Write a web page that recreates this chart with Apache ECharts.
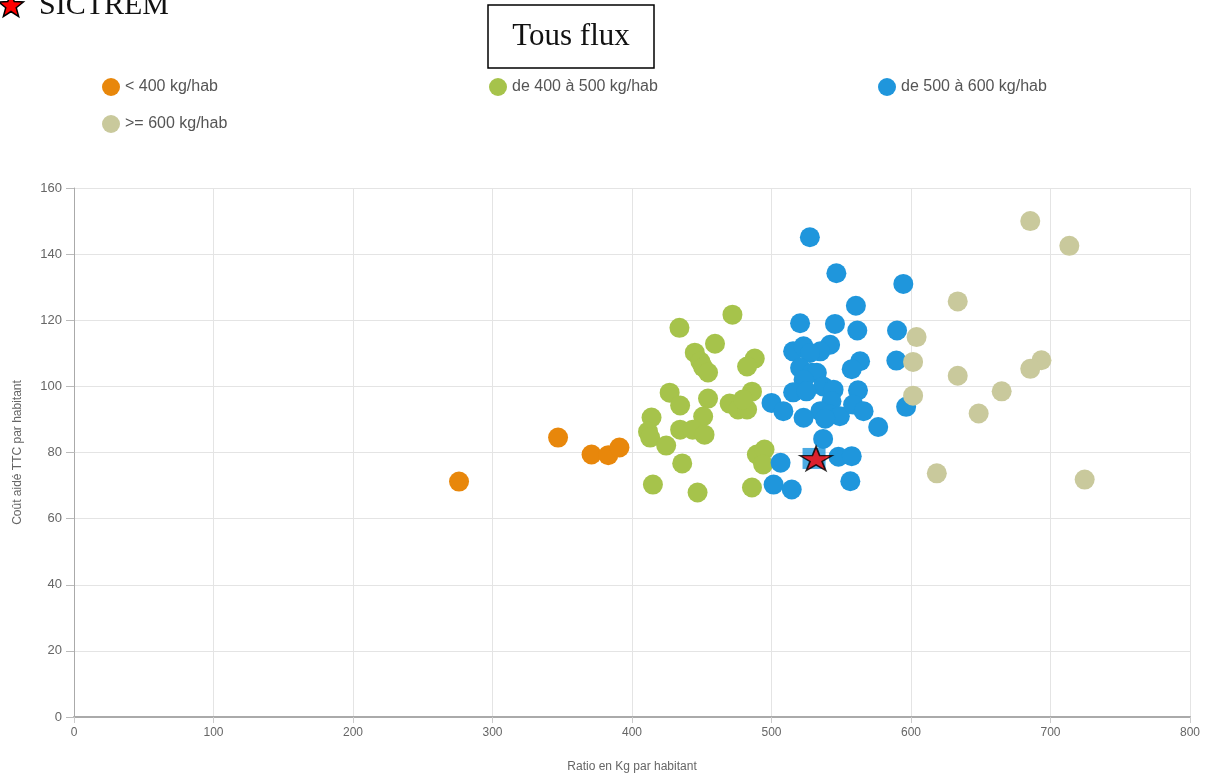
<!DOCTYPE html>
<html>
<head>
<meta charset="utf-8">
<script src="https://cdn.jsdelivr.net/npm/echarts@6/dist/echarts.min.js"></script>
<style>html,body{margin:0;padding:0;background:#fff;}#c{width:1213px;height:778px;}</style>
</head>
<body>
<div id="c"></div>
<script>
const seriesNames = ['< 400 kg/hab', 'de 400 à 500 kg/hab', 'de 500 à 600 kg/hab', '>= 600 kg/hab'];
const xTicks = [0, 100, 200, 300, 400, 500, 600, 700, 800];
const yTicks = [0, 20, 40, 60, 80, 100, 120, 140, 160];

const lt400 = [[276, 71.2], [347, 84.5], [371, 79.4], [383, 79.2], [391, 81.5]];
const from400to500 = [
  [472, 121.7], [434, 117.7], [459.5, 112.9], [445, 110.2], [449, 107.5], [451, 105.8], [454.5, 104.2],
  [488, 108.4], [482.5, 106.0], [427, 98.1], [434.5, 94.2], [454.5, 96.3], [451, 90.9],
  [414, 90.6], [411.5, 86.3], [413, 84.5], [424.5, 82.1], [434.5, 86.9], [443.5, 86.9], [452, 85.4],
  [470, 94.8], [476, 93], [482.5, 93], [486, 98.4], [479.5, 96], [489.5, 79.4], [495, 80.9],
  [494, 76.4], [436, 76.7], [415, 70.3], [447, 67.9], [486, 69.4]
];
const from500to600 = [
  [527.5, 145.1], [546.5, 134.2], [594.5, 131], [560.5, 124.4], [520.5, 119.1], [545.5, 118.9],
  [561.5, 116.9], [590, 116.9], [542, 112.6], [515.5, 110.6], [523, 112.1], [535, 110.6],
  [527.5, 110.1], [563.5, 107.6], [557.5, 105.2], [589.5, 107.8], [520.5, 105.6], [529, 104.1],
  [532.5, 104.1], [523, 102], [537, 100], [544.5, 99], [515.5, 98.2], [525, 98.5], [562, 98.8],
  [500, 95], [508.5, 92.5], [543, 95.5], [535, 92.5], [523, 90.5], [542, 91.5], [549, 91],
  [558.5, 94.5], [566, 92.5], [538.5, 90.2], [596.5, 93.8], [576.5, 87.7], [537, 84.1],
  [548, 78.7], [557.5, 78.9], [506.5, 76.9], [501.5, 70.3], [514.5, 68.8], [556.5, 71.3]
];
const gte600 = [
  [685.5, 150], [713.5, 142.5], [633.5, 125.7], [604, 114.9], [601.5, 107.4], [693.5, 107.9],
  [685.5, 105.3], [633.5, 103.2], [601.5, 97.2], [665, 98.5], [648.5, 91.8], [618.5, 73.7], [724.5, 71.8]
];
const sictrem = [[530.5, 78.2]];

const colors = ['#E8870B', '#A6C34B', '#1F96DC', '#C9C99C'];
const starPath = 'path://M50,0 L61,35 L98,35 L68,57 L79,91 L50,70 L21,91 L32,57 L2,35 L39,35 Z';

function starPoints(cx, cy, R, r) {
  const pts = [];
  for (let i = 0; i < 10; i++) {
    const a = -Math.PI / 2 + i * Math.PI / 5;
    const rad = i % 2 === 0 ? R : r;
    pts.push([cx + rad * Math.cos(a), cy + rad * Math.sin(a)]);
  }
  return pts;
}

const chart = echarts.init(document.getElementById('c'));
const font = 'Liberation Sans, Arial, sans-serif';
const legendBase = {
  icon: 'circle', itemWidth: 18, itemHeight: 18, itemGap: 10, padding: 0,
  textStyle: { color: '#555', fontSize: 16, fontFamily: font }
};
const groups = [lt400, from400to500, from500to600, gte600];

chart.setOption({
  animation: false,
  backgroundColor: '#fff',
  legend: [
    Object.assign({ data: [seriesNames[0]], left: 102, top: 78 }, legendBase),
    Object.assign({ data: [seriesNames[1]], left: 489, top: 78 }, legendBase),
    Object.assign({ data: [seriesNames[2]], left: 878, top: 78 }, legendBase),
    Object.assign({ data: [seriesNames[3]], left: 102, top: 115 }, legendBase)
  ],
  grid: { left: 74, right: 23, top: 188, bottom: 60 },
  xAxis: {
    type: 'value', min: xTicks[0], max: xTicks[xTicks.length - 1], interval: 100,
    name: 'Ratio en Kg par habitant', nameLocation: 'middle', nameGap: 44,
    nameTextStyle: { color: '#666', fontSize: 12, fontFamily: font },
    axisLine: { show: true, lineStyle: { color: '#aaa', width: 2 } },
    axisTick: { show: true, length: 6, lineStyle: { color: '#ccc' } },
    axisLabel: { color: '#666', fontSize: 12, margin: 10, fontFamily: font },
    splitLine: { show: true, lineStyle: { color: '#e4e4e4' } }
  },
  yAxis: {
    type: 'value', min: yTicks[0], max: yTicks[yTicks.length - 1], interval: 20,
    name: 'Coût aidé TTC par habitant', nameLocation: 'middle', nameGap: 50,
    nameTextStyle: { color: '#666', fontSize: 12, fontFamily: font },
    axisLine: { show: true, lineStyle: { color: '#aaa' } },
    axisTick: { show: true, length: 8, lineStyle: { color: '#bbb' } },
    axisLabel: { color: '#666', fontSize: 13, margin: 12, fontFamily: font },
    splitLine: { show: true, lineStyle: { color: '#e4e4e4' } }
  },
  series: groups.map((d, i) => ({
    name: seriesNames[i], type: 'scatter', data: d, symbol: 'circle', symbolSize: 20,
    itemStyle: { color: colors[i], opacity: 1 }, z: 2 + i
  })).concat([
    { name: 'SICTREM-pt', type: 'scatter', data: sictrem, symbol: 'rect', symbolSize: [23, 21],
      itemStyle: { color: colors[2] }, z: 10 },
    { name: 'SICTREM', type: 'scatter', data: sictrem, symbol: starPath, symbolSize: [32, 24],
      symbolOffset: [2, 0],
      itemStyle: { color: '#FF0000', borderColor: '#000', borderWidth: 1.5 }, z: 11 }
  ]),
  graphic: [
    { type: 'polygon', shape: { points: starPoints(11, 6, 13, 5.5) },
      style: { fill: '#FF0000', stroke: '#000', lineWidth: 1.5 } },
    { type: 'text', x: 39, y: 21, style: { text: 'SICTREM', font: '30px "Liberation Serif", "Times New Roman", serif', fill: '#111', verticalAlign: 'bottom', textVerticalAlign: 'bottom' } },
    { type: 'rect', shape: { x: 488, y: 5, width: 166, height: 63 },
      style: { fill: '#fff', stroke: '#000', lineWidth: 1.5 } },
    { type: 'text', x: 571, y: 37, style: { text: 'Tous flux', font: '31px "Liberation Serif", "Times New Roman", serif', fill: '#111', align: 'center', verticalAlign: 'middle' } }
  ]
});
</script>
</body>
</html>
